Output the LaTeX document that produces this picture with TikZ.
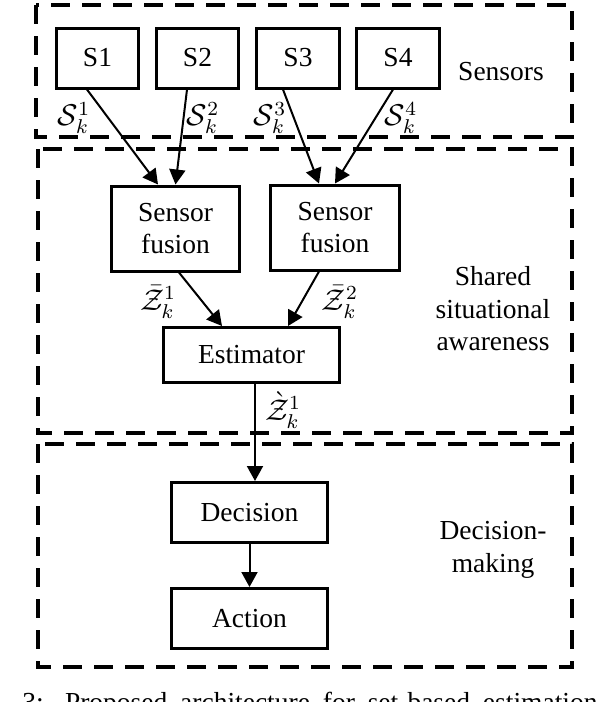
\documentclass[tikz,border=0pt]{standalone}
\usepackage{amsmath}
\usepackage[no-math]{fontspec}
\setmainfont{Liberation Serif}
\usetikzlibrary{arrows.meta,positioning,calc}

\begin{document}
\begin{tikzpicture}[>={Triangle[length=6pt,width=6.4pt]},x=0.4pt,y=-0.4pt,
	font=\fontsize{11}{13}\selectfont]
	\tikzset{block/.style = {draw,line width=1.2pt,inner sep=0pt,align=center}}
	\tikzset{sensor/.style = {block,minimum width=33pt,minimum height=24pt}}
	\tikzset{group/.style = {line width=1.6pt,dash pattern=on 7.6pt off 4.8pt}}
	\tikzset{edge/.style = {->,line width=0.8pt}}
	\tikzset{lbl/.style = {inner sep=0pt,font=\fontsize{12}{14}\selectfont}}

	\useasboundingbox (0,0) rectangle (596,702);
	\clip (0,0) rectangle (596,702);

	% groups
	\draw[group] (36,5) rectangle (572,137);
	\draw[group] (38,149) rectangle (572,433);
	\draw[group] (38,444) rectangle (572,667);
	\node (lsens) at (501,72) {Sensors};
	\node[align=center] (lshared) at (493,309) {Shared\\situational\\awareness};
	\node[align=center] (ldec) at (493,550) {Decision-\\making};

	% vertices
	\node[sensor] (s1) at (97.5,58) {S1};
	\node[sensor] (s2) at (197.5,58) {S2};
	\node[sensor] (s3) at (298,58) {S3};
	\node[sensor] (s4) at (398,58) {S4};
	\node[block,minimum width=51.5pt,minimum height=34pt] (fus1) at (175.5,228.5) {Sensor\\fusion};
	\node[block,minimum width=51.5pt,minimum height=34pt] (fus2) at (335,227.5) {Sensor\\fusion};
	\node[block,minimum width=70pt,minimum height=22pt] (est) at (251.5,355) {Estimator};
	\node[block,minimum width=62pt,minimum height=24pt] (dec) at (249.5,512.5) {Decision};
	\node[block,minimum width=62pt,minimum height=24pt] (act) at (249.5,618.5) {Action};

	%edges
	\path ($(s1.south)+(-10.5,0)$) edge[edge] ($(fus1.north)+(-17.5,0)$);
	\path ($(s2.south)+(-10.5,0)$) edge[edge] (fus1.north);
	\path ($(s3.south)+(-15,0)$) edge[edge] ($(fus2.north)+(-16,0)$);
	\path ($(s4.south)+(-5,0)$) edge[edge] (fus2.north);
	\path ($(fus1.south)+(3.5,0)$) edge[edge] ($(est.north)+(-29.5,0)$);
	\path ($(fus2.south)+(-16,0)$) edge[edge] ($(est.north)+(36.5,0)$);
	\path ($(est.south)+(3.5,0)$) edge[edge] ($(dec.north)+(5.5,0)$);
	\path (dec) edge[edge] (act);

	% labels
	\node[lbl] (ls1) at (74,118) {$\mathcal{S}_k^1$};
	\node[lbl] (ls2) at (203,118) {$\mathcal{S}_k^2$};
	\node[lbl] (ls3) at (270,118) {$\mathcal{S}_k^3$};
	\node[lbl] (ls4) at (401,118) {$\mathcal{S}_k^4$};
	\node[lbl] (lz1) at (158,302) {$\bar{\mathcal{Z}}_k^1$};
	\node[lbl] (lz2) at (340,302) {$\bar{\mathcal{Z}}_k^2$};
	\node[lbl] (lze) at (283,410) {$\grave{\mathcal{Z}}_k^1$};

	% caption
	\node[anchor=base west,inner sep=0pt] (cap) at (22,711)
		{\makebox[230pt][s]{3: Proposed architecture for set-based estimation}};
\end{tikzpicture}
\end{document}
